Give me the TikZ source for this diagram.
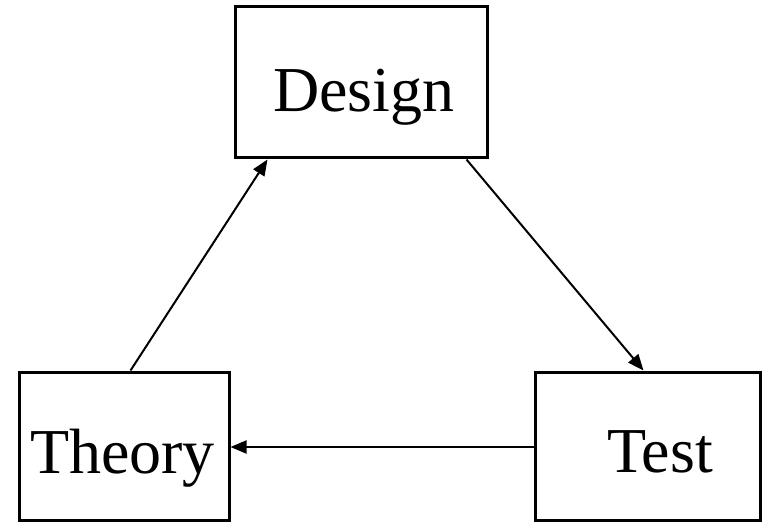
\documentclass[tikz,border=0pt]{standalone}
\usepackage{fontspec}
\setmainfont{Liberation Serif}
\usetikzlibrary{arrows.meta}
\begin{document}
\begin{tikzpicture}[x=1pt,y=1pt,
  box/.style={draw, line width=3pt, rectangle, inner sep=0pt},
  label/.style={anchor=base, inner sep=0pt, font=\fontsize{64}{72}\selectfont},
  flow/.style={line width=2pt, -{Triangle[length=16pt,width=13pt]}}]
  \useasboundingbox (0,0) rectangle (767,522);
  % the three stages
  \node[box, minimum width=252pt, minimum height=151pt] (design) at (361,439.5) {};
  \node[box, minimum width=210pt, minimum height=148pt] (theory) at (124,76) {};
  \node[box, minimum width=225pt, minimum height=148pt] (test) at (647.5,76) {};
  \node[label] (designtxt) at (364,410) {Design};
  \node[label] (theorytxt) at (122.5,49) {Theory};
  \node[label] (testtxt) at (660,50) {Test};
  % the cycle between them
  \draw[flow] ([xshift=113pt]theory.north west) -- ([xshift=34pt]design.south west);
  \draw[flow] ([xshift=233pt]design.south west) -- ([xshift=110pt]test.north west);
  \draw[flow] ([yshift=-1pt]test.west) -- ([yshift=-1pt]theory.east);
\end{tikzpicture}
\end{document}
